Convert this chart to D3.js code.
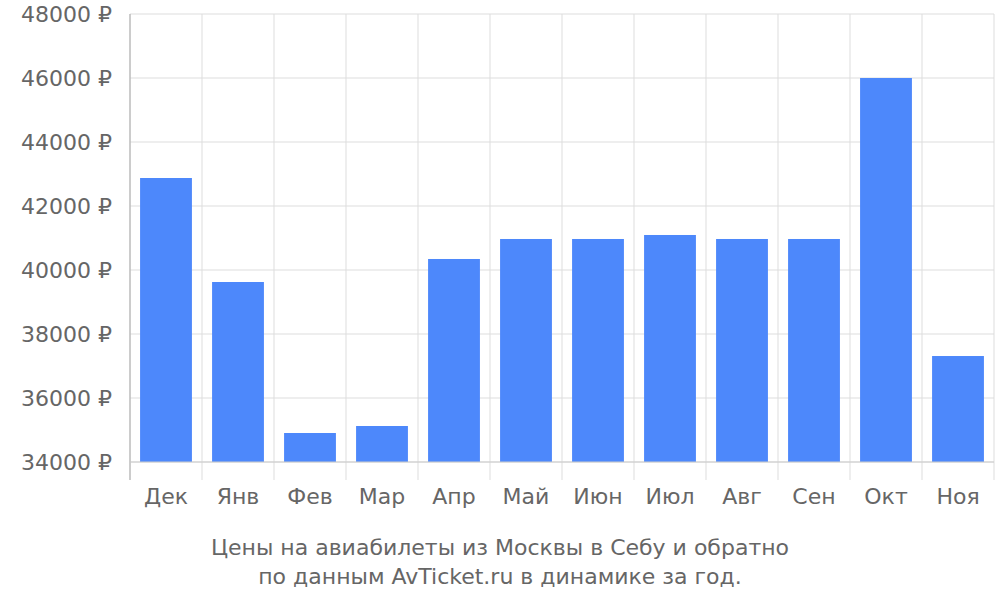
<!DOCTYPE html>
<html><head><meta charset="utf-8">
<script src="https://cdn.jsdelivr.net/npm/d3@7"></script>
<style>body{margin:0;background:#fff}text{font-family:"DejaVu Sans",sans-serif;fill:#666}</style>
</head><body><svg id="c" width="1000" height="600"></svg>
<script>
const months = ["Дек","Янв","Фев","Мар","Апр","Май","Июн","Июл","Авг","Сен","Окт","Ноя"];
const prices = [42875, 39625, 34906, 35125, 40344, 40969, 40969, 41094, 40969, 40969, 46000, 37312];
const yTicks = [34000, 36000, 38000, 40000, 42000, 44000, 46000, 48000];
const titleLines = ["Цены на авиабилеты из Москвы в Себу и обратно", "по данным AvTicket.ru в динамике за год."];

const svg = d3.select("#c");
const mLeft = 130, mRight = 994, mTop = 14, mBottom = 462;
const x = d3.scaleBand().domain(months).range([mLeft, mRight]).paddingInner(0.28).paddingOuter(0.14);
const y = d3.scaleLinear().domain([34000, 48000]).range([mBottom, mTop]);

// horizontal grid
svg.append("g").selectAll("line").data(yTicks).join("line")
  .attr("x1", mLeft).attr("x2", mRight).attr("y1", d => y(d)).attr("y2", d => y(d))
  .attr("stroke", "#ddd");
// vertical grid at band edges
const step = x.step();
const edges = d3.range(months.length + 1).map(i => mLeft + i * step);
svg.append("g").selectAll("line").data(edges).join("line")
  .attr("x1", d => d).attr("x2", d => d).attr("y1", mTop).attr("y2", 480)
  .attr("stroke", "#ddd");

svg.append("g").selectAll("rect").data(prices).join("rect")
  .attr("x", (d, i) => x(months[i])).attr("width", x.bandwidth())
  .attr("y", d => y(d)).attr("height", d => mBottom - y(d))
  .attr("fill", "#4d88fb");

svg.append("line").attr("x1", mLeft).attr("x2", mLeft).attr("y1", mTop).attr("y2", 480).attr("stroke", "#aaa");
svg.append("line").attr("x1", mLeft).attr("x2", mRight).attr("y1", mBottom).attr("y2", mBottom).attr("stroke", "#ccc");

svg.append("g").selectAll("text").data(yTicks).join("text")
  .attr("x", 112).attr("y", d => y(d) + 8).attr("text-anchor", "end")
  .attr("font-size", 22).text(d => d + " ₽");

svg.append("g").selectAll("text").data(months).join("text")
  .attr("x", d => x(d) + x.bandwidth() / 2).attr("y", 504).attr("text-anchor", "middle")
  .attr("font-size", 22).text(d => d);

svg.append("g").selectAll("text").data(titleLines).join("text")
  .attr("x", 500).attr("y", (d, i) => 555 + i * 29).attr("text-anchor", "middle")
  .attr("font-size", 22).text(d => d);
</script></body></html>
